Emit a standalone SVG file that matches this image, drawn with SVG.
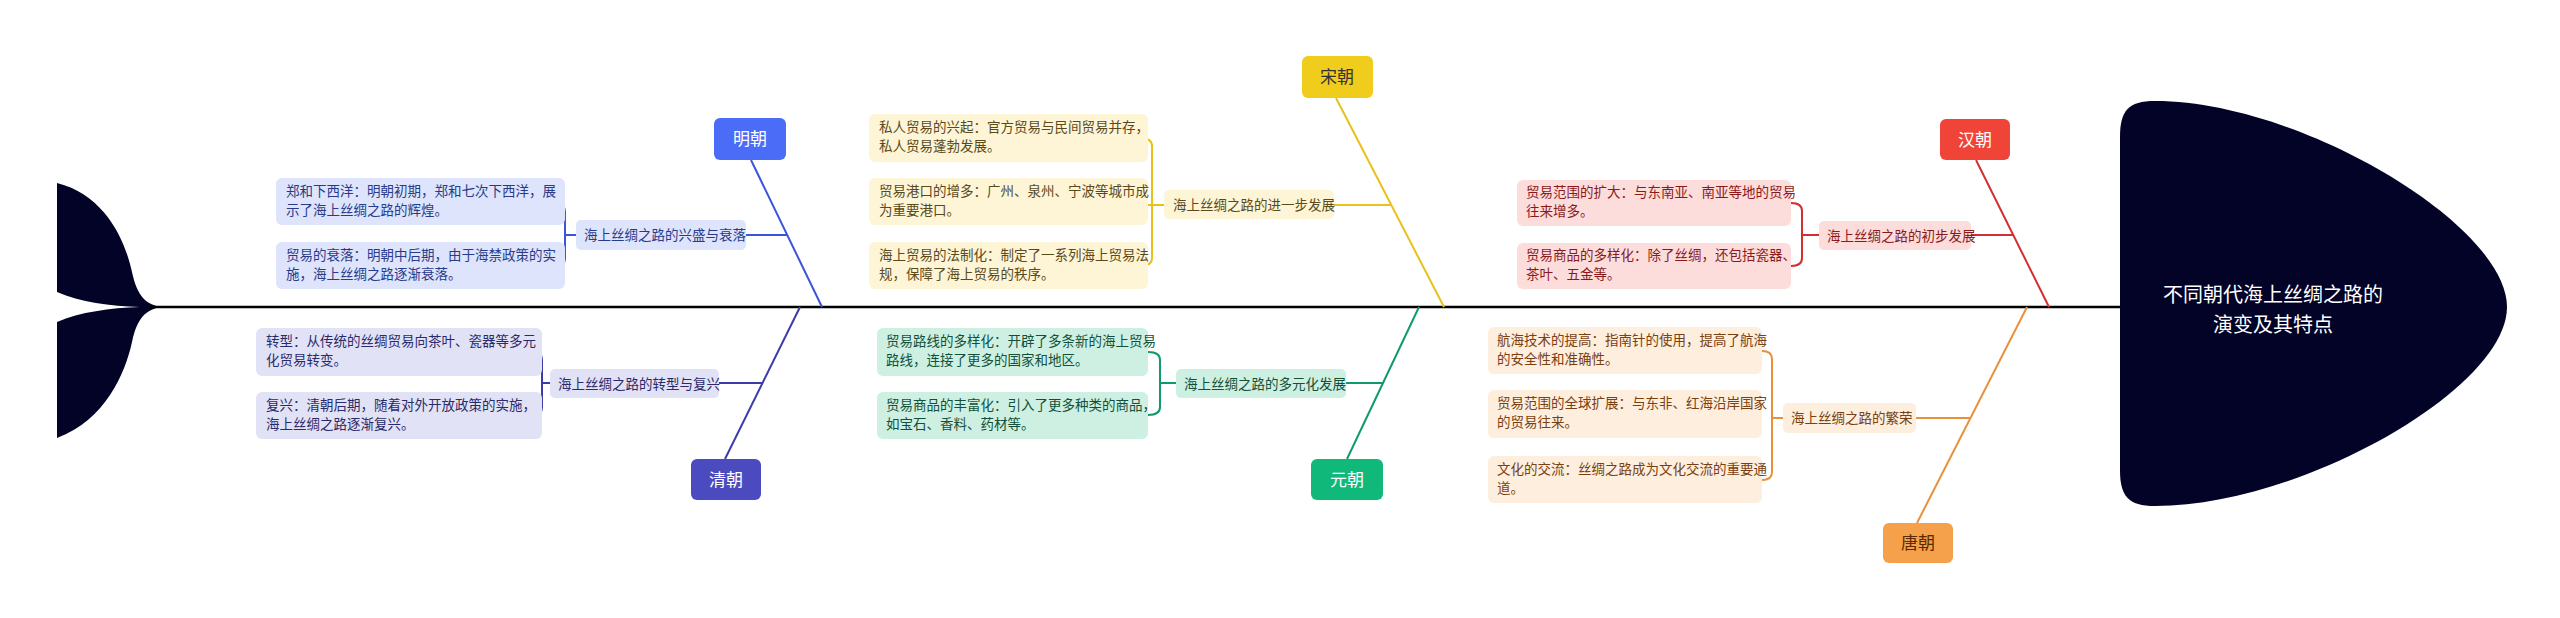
<svg xmlns="http://www.w3.org/2000/svg" width="2560" height="618" viewBox="0 0 2560 618">
<style>
text{font-family:"Noto Sans CJK SC","Liberation Sans",sans-serif}
.leaf{font-size:13.5px}
.cat{font-size:13.5px}
.dyn{font-size:17px;fill:#fff;text-anchor:middle}
.bone{fill:none;stroke-width:2}
</style>
<rect width="2560" height="618" fill="#fff"/>
<g id="spine">
<path d="M57,183 C105,195 125,240 132,272 C137,296 146,305 162,307 C146,309 137,318 132,342 C125,374 105,420 57,438 L57,322 C80,312 110,308 140,307 C110,306 80,302 57,292 Z" fill="#020326"/>
<line x1="150" y1="307" x2="2125" y2="307" stroke="#000" stroke-width="2.5"/>
</g>
<g id="head">
<path d="M2155,101 C2300,101 2507,225 2507,307 C2507,389 2300,506 2155,506 C2128,506 2120,496 2120,470 L2120,137 C2120,111 2128,101 2155,101 Z" fill="#020326"/>
<text x="2273" y="302" font-size="20" fill="#fff" text-anchor="middle">不同朝代海上丝绸之路的</text>
<text x="2273" y="332" font-size="20" fill="#fff" text-anchor="middle">演变及其特点</text>
</g>
<g id="connectors">
<line x1="751" y1="160" x2="822" y2="307" stroke="#3b55d9" class="bone"/>
<line x1="746" y1="235" x2="787" y2="235" stroke="#3b55d9" class="bone"/>
<path d="M576,235 H565 M557,204 Q565,204 565,212 V258 Q565,266 557,266" stroke="#3b55d9" class="bone"/>
<line x1="725" y1="459" x2="800" y2="307" stroke="#3c3ca8" class="bone"/>
<line x1="719" y1="383" x2="762" y2="383" stroke="#3c3ca8" class="bone"/>
<path d="M550,383 H542 M534,352 Q542,352 542,360 V407 Q542,415 534,415" stroke="#3c3ca8" class="bone"/>
<line x1="1336" y1="98" x2="1444" y2="307" stroke="#e8c21a" class="bone"/>
<line x1="1334" y1="205" x2="1391" y2="205" stroke="#e8c21a" class="bone"/>
<path d="M1164,205 H1148 M1140,138 Q1152,138 1152,146 V258 Q1152,266 1140,266" stroke="#e8c21a" class="bone"/>
<line x1="1347" y1="459" x2="1419" y2="307" stroke="#109a68" class="bone"/>
<line x1="1346" y1="383" x2="1383" y2="383" stroke="#109a68" class="bone"/>
<path d="M1176,383 H1160 M1148,352 Q1160,352 1160,360 V407 Q1160,415 1148,415" stroke="#109a68" class="bone"/>
<line x1="1976" y1="160" x2="2049" y2="307" stroke="#d23030" class="bone"/>
<line x1="1971" y1="235" x2="2013" y2="235" stroke="#d23030" class="bone"/>
<path d="M1819,235 H1802 M1791,203 Q1802,203 1802,211 V258 Q1802,266 1791,266" stroke="#d23030" class="bone"/>
<line x1="1917" y1="523" x2="2027" y2="307" stroke="#e8913a" class="bone"/>
<line x1="1916" y1="418" x2="1970" y2="418" stroke="#e8913a" class="bone"/>
<path d="M1783,418 H1772 M1762,351 Q1772,351 1772,359 V472 Q1772,480 1762,480" stroke="#e8913a" class="bone"/>
</g>
<g id="ming">
<rect x="714" y="118" width="72" height="42" rx="6" fill="#4a6cf7"/><text class="dyn" x="750" y="145">明朝</text>
<rect x="576" y="220" width="170" height="30" rx="5" fill="#dde4fb"/><text class="cat" x="584" y="240" fill="#2a3a8a">海上丝绸之路的兴盛与衰落</text>
<rect x="276" y="178" width="289" height="47" rx="6" fill="#dde4fb"/><text class="leaf" fill="#2a3a8a"><tspan x="286" y="196">郑和下西洋：明朝初期，郑和七次下西洋，展</tspan><tspan x="286" y="215">示了海上丝绸之路的辉煌。</tspan></text>
<rect x="276" y="242" width="289" height="47" rx="6" fill="#dde4fb"/><text class="leaf" fill="#2a3a8a"><tspan x="286" y="260">贸易的衰落：明朝中后期，由于海禁政策的实</tspan><tspan x="286" y="279">施，海上丝绸之路逐渐衰落。</tspan></text>
</g>
<g id="qing">
<rect x="691" y="459" width="70" height="41" rx="6" fill="#4b4bbf"/><text class="dyn" x="726" y="486">清朝</text>
<rect x="550" y="369" width="169" height="29" rx="5" fill="#e2e2f6"/><text class="cat" x="558" y="389" fill="#2a2a6a">海上丝绸之路的转型与复兴</text>
<rect x="256" y="328" width="286" height="48" rx="6" fill="#e2e2f6"/><text class="leaf" fill="#2a2a6a"><tspan x="266" y="346">转型：从传统的丝绸贸易向茶叶、瓷器等多元</tspan><tspan x="266" y="365">化贸易转变。</tspan></text>
<rect x="256" y="392" width="286" height="47" rx="6" fill="#e2e2f6"/><text class="leaf" fill="#2a2a6a"><tspan x="266" y="410">复兴：清朝后期，随着对外开放政策的实施，</tspan><tspan x="266" y="429">海上丝绸之路逐渐复兴。</tspan></text>
</g>
<g id="song">
<rect x="1302" y="56" width="71" height="42" rx="6" fill="#f0cc1c"/><text class="dyn" x="1337" y="83" style="fill:#333">宋朝</text>
<rect x="1164" y="190" width="170" height="29" rx="5" fill="#fdf5d6"/><text class="cat" x="1173" y="210" fill="#5a4a1a">海上丝绸之路的进一步发展</text>
<rect x="869" y="114" width="279" height="48" rx="6" fill="#fdf5d6"/><text class="leaf" fill="#5a4a1a"><tspan x="879" y="132">私人贸易的兴起：官方贸易与民间贸易并存，</tspan><tspan x="879" y="151">私人贸易蓬勃发展。</tspan></text>
<rect x="869" y="178" width="279" height="47" rx="6" fill="#fdf5d6"/><text class="leaf" fill="#5a4a1a"><tspan x="879" y="196">贸易港口的增多：广州、泉州、宁波等城市成</tspan><tspan x="879" y="215">为重要港口。</tspan></text>
<rect x="869" y="242" width="279" height="47" rx="6" fill="#fdf5d6"/><text class="leaf" fill="#5a4a1a"><tspan x="879" y="260">海上贸易的法制化：制定了一系列海上贸易法</tspan><tspan x="879" y="279">规，保障了海上贸易的秩序。</tspan></text>
</g>
<g id="yuan">
<rect x="1311" y="459" width="72" height="41" rx="6" fill="#10b97a"/><text class="dyn" x="1347" y="486">元朝</text>
<rect x="1176" y="369" width="170" height="29" rx="5" fill="#cdf0e2"/><text class="cat" x="1184" y="389" fill="#12503a">海上丝绸之路的多元化发展</text>
<rect x="877" y="328" width="271" height="48" rx="6" fill="#cdf0e2"/><text class="leaf" fill="#12503a"><tspan x="886" y="346">贸易路线的多样化：开辟了多条新的海上贸易</tspan><tspan x="886" y="365">路线，连接了更多的国家和地区。</tspan></text>
<rect x="877" y="392" width="271" height="47" rx="6" fill="#cdf0e2"/><text class="leaf" fill="#12503a"><tspan x="886" y="410">贸易商品的丰富化：引入了更多种类的商品，</tspan><tspan x="886" y="429">如宝石、香料、药材等。</tspan></text>
</g>
<g id="han">
<rect x="1940" y="119" width="70" height="41" rx="6" fill="#f04438"/><text class="dyn" x="1975" y="146">汉朝</text>
<rect x="1819" y="221" width="152" height="29" rx="5" fill="#fddcdc"/><text class="cat" x="1827" y="241" fill="#8a1a1a">海上丝绸之路的初步发展</text>
<rect x="1517" y="180" width="274" height="46" rx="6" fill="#fddcdc"/><text class="leaf" fill="#8a1a1a"><tspan x="1526" y="197">贸易范围的扩大：与东南亚、南亚等地的贸易</tspan><tspan x="1526" y="216">往来增多。</tspan></text>
<rect x="1517" y="243" width="274" height="46" rx="6" fill="#fddcdc"/><text class="leaf" fill="#8a1a1a"><tspan x="1526" y="260">贸易商品的多样化：除了丝绸，还包括瓷器、</tspan><tspan x="1526" y="279">茶叶、五金等。</tspan></text>
</g>
<g id="tang">
<rect x="1883" y="523" width="70" height="40" rx="6" fill="#f5a04a"/><text class="dyn" x="1918" y="549" style="fill:#5a2a00">唐朝</text>
<rect x="1783" y="403" width="133" height="30" rx="5" fill="#fdeedd"/><text class="cat" x="1791" y="423" fill="#7a4010">海上丝绸之路的繁荣</text>
<rect x="1488" y="327" width="274" height="47" rx="6" fill="#fdeedd"/><text class="leaf" fill="#7a4010"><tspan x="1497" y="345">航海技术的提高：指南针的使用，提高了航海</tspan><tspan x="1497" y="364">的安全性和准确性。</tspan></text>
<rect x="1488" y="390" width="274" height="48" rx="6" fill="#fdeedd"/><text class="leaf" fill="#7a4010"><tspan x="1497" y="408">贸易范围的全球扩展：与东非、红海沿岸国家</tspan><tspan x="1497" y="427">的贸易往来。</tspan></text>
<rect x="1488" y="456" width="274" height="47" rx="6" fill="#fdeedd"/><text class="leaf" fill="#7a4010"><tspan x="1497" y="474">文化的交流：丝绸之路成为文化交流的重要通</tspan><tspan x="1497" y="493">道。</tspan></text>
</g>
</svg>
